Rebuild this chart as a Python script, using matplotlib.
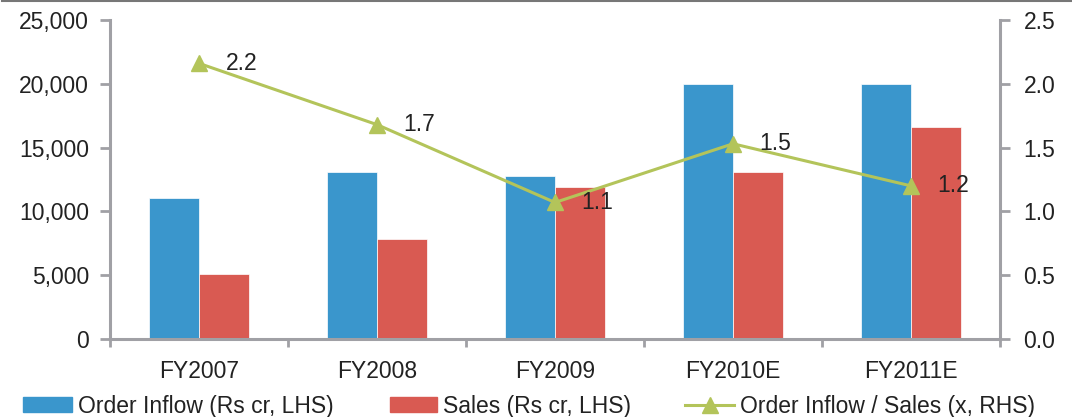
import matplotlib
matplotlib.use("Agg")
import matplotlib.pyplot as plt
from matplotlib.lines import Line2D
import numpy as np

plt.rcParams['font.family'] = ['Liberation Sans', 'DejaVu Sans']

categories = ["FY2007", "FY2008", "FY2009", "FY2010E", "FY2011E"]
order_inflow = [11050, 13100, 12750, 20000, 20000]
sales = [5100, 7800, 11900, 13100, 16600]
ratio = [2.16, 1.68, 1.07, 1.53, 1.20]
ratio_labels = ["2.2", "1.7", "1.1", "1.5", "1.2"]

blue = "#3A96CC"
red = "#D95A52"
green = "#B3C45A"
axcol = "#A0A0A5"
txt = "#222222"
FS = 16.5

fig = plt.figure(figsize=(10.72, 4.17), dpi=100)
ax = fig.add_axes([110/1072, 1-339/417, 890/1072, 319/417])
x = np.arange(len(categories))
w = 0.28
ax.bar(x - w/2, order_inflow, w, color=blue, edgecolor="white", linewidth=0.5)
ax.bar(x + w/2, sales, w, color=red, edgecolor="white", linewidth=0.5)
ax.set_xlim(-0.5, len(categories) - 0.5)
ax.set_ylim(0, 25000)
ax.set_yticks(np.arange(0, 25001, 5000))
ax.set_yticklabels([f"{v:,}" for v in range(0, 25001, 5000)])
ax.set_xticks(x)
ax.set_xticklabels(categories)
ax.set_xticks(np.arange(-0.5, len(categories) + 0.5, 1), minor=True)
ax.tick_params(axis='x', which='major', length=0, pad=15, labelsize=FS, labelcolor=txt)
ax.tick_params(axis='x', which='minor', length=6, width=2, color=axcol, direction='out')
ax.tick_params(axis='y', length=7, width=2, color=axcol, labelsize=FS, labelcolor=txt, pad=8)
for s in ["top", "right"]:
    ax.spines[s].set_visible(False)
for s in ["left", "bottom"]:
    ax.spines[s].set_color(axcol)
    ax.spines[s].set_linewidth(2.2)

ax2 = ax.twinx()
ax2.plot(x, ratio, color=green, linewidth=2.2, marker="^", markersize=11)
for xi, yi, lab in zip(x, ratio, ratio_labels):
    ax2.annotate(lab, (xi, yi), xytext=(19, 0), textcoords="offset points", fontsize=FS, color=txt,
                 va="center", ha="left")
ax2.set_ylim(0, 2.5)
ax2.set_yticks(np.arange(0, 2.51, 0.5))
ax2.set_yticklabels([f"{v:.1f}" for v in np.arange(0, 2.51, 0.5)])
ax2.tick_params(axis='y', length=7, width=2, color=axcol, labelsize=FS, labelcolor=txt, pad=10)
for s in ["top", "left", "bottom"]:
    ax2.spines[s].set_visible(False)
ax2.spines["right"].set_color(axcol)
ax2.spines["right"].set_linewidth(2.2)

px = FS * 100 / 72
legend_items = [
    (plt.Rectangle((0, 0), 1, 1, color=blue), "Order Inflow (Rs cr, LHS)", 23, 49),
    (plt.Rectangle((0, 0), 1, 1, color=red), "Sales (Rs cr, LHS)", 390, 47),
    (Line2D([0], [0], color=green, linewidth=2.2, marker="^", markersize=11), "Order Inflow / Sales (x, RHS)", 685, 49),
]
for h, lab, x0, hl in legend_items:
    fig.legend([h], [lab], loc="center left", bbox_to_anchor=(x0 / 1072, 1 - 406 / 417),
               frameon=False, fontsize=FS, handlelength=hl / px, handleheight=0.6,
               handletextpad=6 / px, borderpad=0, borderaxespad=0, labelcolor=txt)

fig.add_artist(Line2D([2/1072, 1], [1 - 1/417, 1 - 1/417], color="#777777", linewidth=1.5,
                      transform=fig.transFigure))

fig.savefig("out.png", dpi=100)
